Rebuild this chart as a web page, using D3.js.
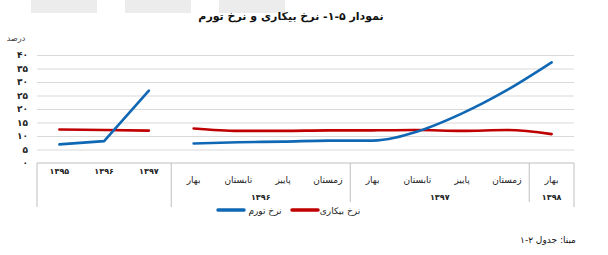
<!DOCTYPE html>
<html>
<head>
<meta charset="utf-8">
<script src="https://cdn.jsdelivr.net/npm/d3@7"></script>
<style>
  body { margin: 0; background: #fff; }
  text { font-family: "DejaVu Sans", sans-serif; }
</style>
</head>
<body>
<div id="chart"></div>
<script>
// ---- data ----
const annualYears = ["۱۳۹۵", "۱۳۹۶", "۱۳۹۷"];
const quarters = ["بهار", "تابستان", "پاییز", "زمستان", "بهار", "تابستان", "پاییز", "زمستان", "بهار"];
const quarterYears = ["۱۳۹۶", "۱۳۹۷", "۱۳۹۸"];
const quarterYearSpan = [4, 4, 1];

const inflationAnnual = [6.9, 8.1, 26.8];
const unemploymentAnnual = [12.4, 12.2, 12.0];
const inflationQuarterly = [7.2, 7.7, 7.9, 8.3, 8.3, 11.7, 18.4, 27.0, 37.3];
const unemploymentQuarterly = [12.8, 11.9, 11.9, 12.1, 12.1, 12.2, 11.9, 12.2, 10.7];

const yTicks = [0, 5, 10, 15, 20, 25, 30, 35, 40];
const legendLabels = ["نرخ تورم", "نرخ بیکاری"];
const title = "نمودار ۵-۱- نرخ بیکاری و نرخ تورم";
const yUnit = "درصد";
const source = "مبنا: جدول ۲-۱";

const blue = "#1068b4";
const red = "#c00000";

const fa = (n) => String(n).replace(/\d/g, (d) => "۰۱۲۳۴۵۶۷۸۹"[d]);

// ---- layout ----
const w = 608, h = 255;
const plotLeft = 37, plotRight = 574, plotTop = 55, plotBottom = 163;

const svg = d3.select("#chart").append("svg").attr("width", w).attr("height", h);

// faint header blocks of the watermark
svg.selectAll("rect.wm")
   .data([[31, 97], [125, 191], [219, 285]])
   .enter().append("rect")
   .attr("x", (d) => d[0]).attr("y", 0)
   .attr("width", (d) => d[1] - d[0]).attr("height", 13)
   .attr("fill", "#ececec");

const nCat = annualYears.length + quarters.length;
const xScale = d3.scaleBand().domain(d3.range(nCat)).range([plotLeft, plotRight]).padding(0);
const cx = (i) => xScale(i) + xScale.bandwidth() / 2;
const yScale = d3.scaleLinear().domain([0, 40]).range([plotBottom, plotTop]);

// grid lines
svg.append("g")
   .attr("transform", `translate(${plotLeft},0)`)
   .call(d3.axisLeft(yScale).tickValues(yTicks.slice(1)).tickSize(-(plotRight - plotLeft)).tickFormat(""))
   .call((g) => g.select(".domain").remove())
   .call((g) => g.selectAll("line").attr("stroke", "#d9d9d9"));

// y labels
svg.append("g")
   .attr("transform", `translate(28,0)`)
   .call(d3.axisLeft(yScale).tickValues(yTicks).tickSize(0).tickPadding(0).tickFormat(fa))
   .call((g) => g.select(".domain").remove())
   .call((g) => g.selectAll("text")
      .attr("font-family", "DejaVu Sans").attr("font-size", 9).attr("font-weight", "bold").attr("fill", "#222"));

svg.append("text")
   .attr("x", 16).attr("y", 41)
   .attr("text-anchor", "middle")
   .style("direction", "rtl")
   .style("font-size", "8px").attr("fill", "#333")
   .text(yUnit);

// category axis line
svg.append("line").attr("x1", plotLeft).attr("x2", plotRight).attr("y1", plotBottom).attr("y2", plotBottom)
   .attr("stroke", "#bfbfbf");

// separators
const sepMajor = [0, annualYears.length, nCat];
const sepMinor = [];
let acc = annualYears.length;
quarterYearSpan.forEach((s, i) => { acc += s; if (i < quarterYearSpan.length - 1) sepMinor.push(acc); });
const edgeX = (i) => (i >= nCat ? plotRight : xScale(i));
svg.selectAll("line.sep")
   .data(sepMajor.map((i) => [edgeX(i), 207]).concat(sepMinor.map((i) => [edgeX(i), 202])))
   .enter().append("line")
   .attr("x1", (d) => d[0]).attr("x2", (d) => d[0])
   .attr("y1", plotBottom).attr("y2", (d) => d[1])
   .attr("stroke", "#bfbfbf");

// annual labels
svg.selectAll("text.ann")
   .data(annualYears)
   .enter().append("text")
   .attr("x", (d, i) => cx(i)).attr("y", 174)
   .attr("text-anchor", "middle")
   .style("font-size", "8px").style("font-weight", "bold").attr("fill", "#222")
   .text((d) => d);

// quarter labels
svg.selectAll("text.q")
   .data(quarters)
   .enter().append("text")
   .attr("x", (d, i) => cx(i + annualYears.length)).attr("y", 183)
   .attr("text-anchor", "middle")
   .style("direction", "rtl")
   .style("font-size", "9px").attr("fill", "#222")
   .text((d) => d);

// quarter year labels
let start = annualYears.length;
quarterYears.forEach((y, i) => {
  const a = start, b = start + quarterYearSpan[i] - 1;
  svg.append("text")
     .attr("x", (cx(a) + cx(b)) / 2).attr("y", 200)
     .attr("text-anchor", "middle")
     .style("font-size", "8px").style("font-weight", "bold").attr("fill", "#222")
     .text(y);
  start += quarterYearSpan[i];
});

// lines: annual segments straight, quarterly smoothed
const lineStraight = d3.line().x((d) => cx(d[0])).y((d) => yScale(d[1]));
const lineSmooth = d3.line().x((d) => cx(d[0])).y((d) => yScale(d[1])).curve(d3.curveMonotoneX);
const seg = (vals, offset) => vals.map((v, i) => [i + offset, v]);
const series = [
  [seg(unemploymentAnnual, 0), red, lineStraight],
  [seg(unemploymentQuarterly, annualYears.length), red, lineSmooth],
  [seg(inflationAnnual, 0), blue, lineStraight],
  [seg(inflationQuarterly, annualYears.length), blue, lineSmooth]
];
svg.selectAll("path.series")
   .data(series)
   .enter().append("path")
   .attr("d", (d) => d[2](d[0]))
   .attr("fill", "none")
   .attr("stroke", (d) => d[1])
   .attr("stroke-width", 2.6)
   .attr("stroke-linecap", "round")
   .attr("stroke-linejoin", "round");

// legend
const legend = [[218, 244, 265, blue, legendLabels[0]], [292, 318, 340, red, legendLabels[1]]];
legend.forEach((d) => {
  svg.append("line").attr("x1", d[0]).attr("x2", d[1]).attr("y1", 210).attr("y2", 210)
     .attr("stroke", d[3]).attr("stroke-width", 3.5).attr("stroke-linecap", "round");
  svg.append("text").attr("x", d[2]).attr("y", 214)
     .attr("text-anchor", "middle").style("direction", "rtl")
     .style("font-size", "9px").attr("fill", "#222")
     .text(d[4]);
});

// title
svg.append("text")
   .attr("x", 291).attr("y", 20)
   .attr("text-anchor", "middle").style("direction", "rtl")
   .style("font-size", "11px").style("font-weight", "bold").attr("fill", "#111")
   .text(title);

// source
svg.append("text")
   .attr("x", 548).attr("y", 243)
   .attr("text-anchor", "middle").style("direction", "rtl")
   .style("font-size", "9px").attr("fill", "#111")
   .text(source);
</script>
</body>
</html>
